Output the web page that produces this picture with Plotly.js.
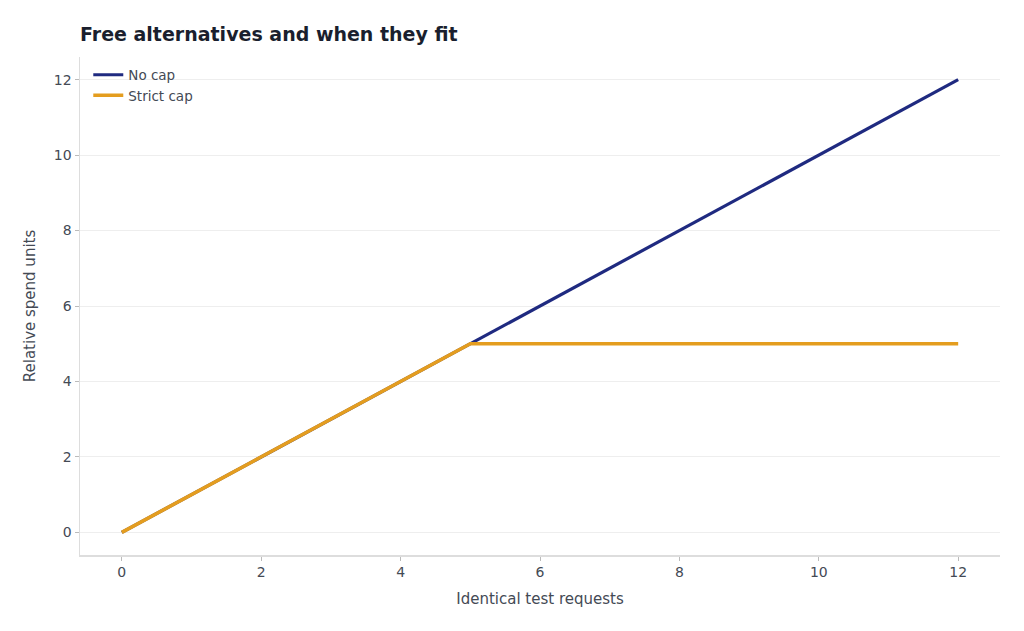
<!DOCTYPE html>
<html>
<head>
<meta charset="utf-8">
<script src="https://cdn.plot.ly/plotly-3.0.1.min.js"></script>
<style>html,body{margin:0;padding:0;background:#fff;}#chart{width:1024px;height:631px;}</style>
</head>
<body>
<div id="chart"></div>
<script>
const requests = [0,1,2,3,4,5,6,7,8,9,10,11,12];
const noCap = [0,1,2,3,4,5,6,7,8,9,10,11,12];
const strictCap = [0,1,2,3,4,5,5,5,5,5,5,5,5];
const xTicks = [0,2,4,6,8,10,12];
const yTicks = [0,2,4,6,8,10,12];

const font = "DejaVu Sans, sans-serif";
const traces = [
  {x: requests, y: noCap, name: "No cap", mode: "lines", line: {color: "#1f2a80", width: 3.2}},
  {x: requests, y: strictCap, name: "Strict cap", mode: "lines", line: {color: "#e49d1f", width: 3.6}}
];
const axisCommon = {
  showline: true, linecolor: "#dddddd", linewidth: 1.5, mirror: false,
  zeroline: false,
  ticks: "outside", ticklen: 4, tickcolor: "#bbbbbb", tickwidth: 1,
  tickfont: {family: font, size: 14, color: "#444a55"}
};
const layout = {
  width: 1024, height: 631,
  paper_bgcolor: "#ffffff", plot_bgcolor: "#ffffff",
  margin: {l: 80, r: 24, t: 57, b: 76},
  font: {family: font, color: "#444a55"},
  title: {text: "<b>Free alternatives and when they fit</b>", x: 80/1024, xanchor: "left", y: 1 - 34/631, yanchor: "middle",
          font: {family: font, size: 19, color: "#1a1f2e"}},
  showlegend: true,
  legend: {x: 0.009, y: 0.995, xanchor: "left", yanchor: "top", bgcolor: "rgba(0,0,0,0)",
           font: {family: font, size: 13.5, color: "#444a55"}, tracegroupgap: 0},
  xaxis: Object.assign({}, axisCommon, {
    range: [-0.6, 12.6], tickvals: xTicks, ticktext: xTicks.map(String), showgrid: false,
    title: {text: "Identical test requests", font: {family: font, size: 15, color: "#444a55"}, standoff: 14}
  }),
  yaxis: Object.assign({}, axisCommon, {
    range: [-0.6, 12.6], tickvals: yTicks, ticktext: yTicks.map(String),
    showgrid: true, gridcolor: "#eeeeee", gridwidth: 1,
    title: {text: "Relative spend units", font: {family: font, size: 15, color: "#444a55"}, standoff: 14}
  })
};
Plotly.newPlot("chart", traces, layout, {displayModeBar: false, staticPlot: true});
</script>
</body>
</html>
